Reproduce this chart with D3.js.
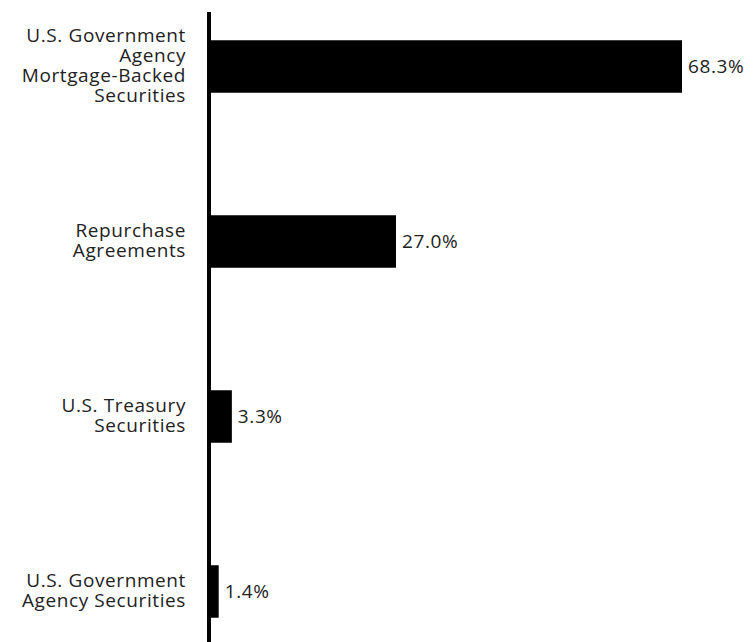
<!DOCTYPE html>
<html>
<head>
<meta charset="utf-8">
<script src="https://cdn.jsdelivr.net/npm/d3@7"></script>
<style>
  body { margin: 0; background: #fff; }
  text { font-family: "Open Sans", sans-serif; font-size: 19px; fill: #222; letter-spacing: 0.6px; }
</style>
</head>
<body>
<svg></svg>
<script>
const width = 755;
const height = 642;

// holdings, in chart order
var categories = [
  "U.S. Government Agency Mortgage-Backed Securities",
  "Repurchase Agreements",
  "U.S. Treasury Securities",
  "U.S. Government Agency Securities"
];
var labelLines = [
  ["U.S. Government", "Agency", "Mortgage-Backed", "Securities"],
  ["Repurchase", "Agreements"],
  ["U.S. Treasury", "Securities"],
  ["U.S. Government", "Agency Securities"]
];
var values = [68.3, 27.0, 3.3, 1.4];
var valueLabels = ["68.3%", "27.0%", "3.3%", "1.4%"];

var axisX = 209;

var xScale = d3.scaleLinear().domain([0, 68.3]).range([axisX, 682]);
var yScale = d3.scaleBand()
  .domain(categories)
  .range([-21, 679])
  .paddingInner(0.7)
  .paddingOuter(0.35);

var svg = d3.select("svg")
  .attr("width", width)
  .attr("height", height);

var data = categories.map((c, i) => ({cat: c, lines: labelLines[i], value: values[i], label: valueLabels[i]}));

svg.selectAll("rect.bar")
  .data(data)
  .enter()
  .append("rect")
  .attr("class", "bar")
  .attr("x", xScale(0))
  .attr("y", d => yScale(d.cat))
  .attr("width", d => xScale(d.value) - xScale(0))
  .attr("height", yScale.bandwidth())
  .attr("fill", "#000");

// vertical axis line
svg.append("line")
  .attr("x1", axisX).attr("x2", axisX)
  .attr("y1", 12).attr("y2", height)
  .attr("stroke", "#000")
  .attr("stroke-width", 4);

var lineH = 20;

svg.selectAll("text.cat")
  .data(data)
  .enter()
  .append("text")
  .attr("class", "cat")
  .attr("text-anchor", "end")
  .attr("transform", d => {
    var cy = yScale(d.cat) + yScale.bandwidth() / 2;
    var y0 = cy - (d.lines.length - 1) * lineH / 2 + 5;
    return `translate(186,${y0})`;
  })
  .selectAll("tspan")
  .data(d => d.lines)
  .enter()
  .append("tspan")
  .attr("x", 0)
  .attr("y", (d, j) => j * lineH)
  .text(d => d);

svg.selectAll("text.val")
  .data(data)
  .enter()
  .append("text")
  .attr("class", "val")
  .attr("x", d => xScale(d.value) + 6)
  .attr("y", d => yScale(d.cat) + yScale.bandwidth() / 2 + 6)
  .text(d => d.label);
</script>
</body>
</html>
